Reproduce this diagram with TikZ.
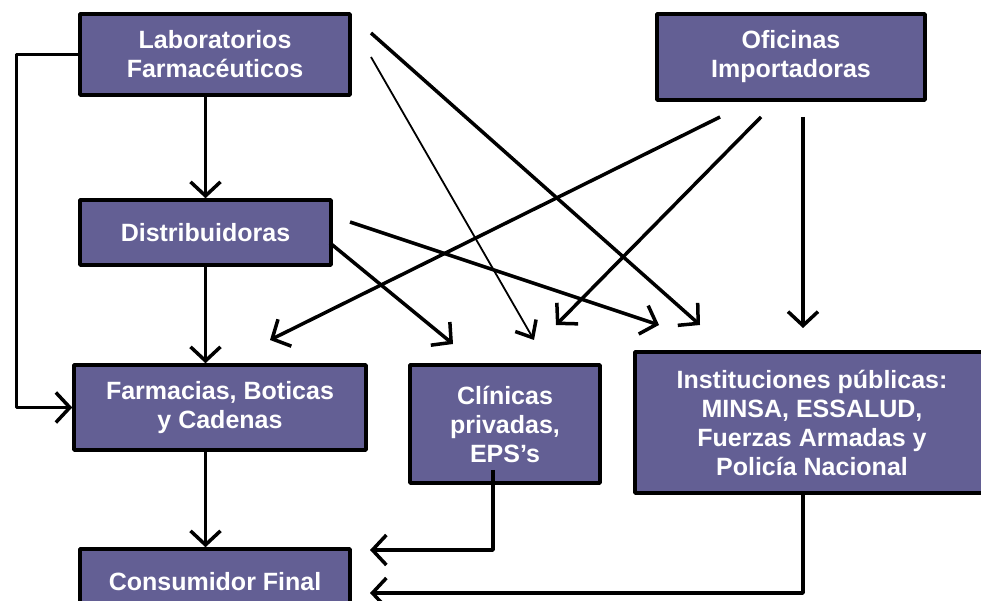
\documentclass[tikz,border=0pt]{standalone}
\usepackage{fontspec}
\setmainfont{Liberation Sans}
\usepackage{tikz}
\usetikzlibrary{arrows.meta}
\definecolor{boxfill}{RGB}{99,95,148}
\tikzset{
  box/.style={draw=black, line width=3.5bp, fill=boxfill, text=white, align=center,
    inner sep=0pt, font=\fontsize{25bp}{29bp}\selectfont\bfseries},
  flow/.style={line width=3.5bp, -{Straight Barb[length=14bp,width=30bp]}},
  thinflow/.style={line width=1.8bp, -{Straight Barb[length=14bp,width=24bp,line width=3.5bp]}},
}
\begin{document}
\begin{tikzpicture}[line join=bevel]
\useasboundingbox (0bp,0bp) rectangle (981bp,601bp);
%%
  \node (lab) at (215bp,546.5bp) [box,minimum width=270bp,minimum height=81bp] {Laboratorios\\Farmacéuticos};
  \node (ofic) at (791bp,544bp) [box,minimum width=268bp,minimum height=86bp] {Oficinas\\Importadoras};
  \node (dist) at (205.5bp,368.5bp) [box,minimum width=251bp,minimum height=65bp] {Distribuidoras};
  \node (farm) at (220bp,193.5bp) [box,minimum width=292bp,minimum height=85bp] {Farmacias, Boticas\\y Cadenas};
  \node (clin) at (505bp,177bp) [box,minimum width=190bp,minimum height=118bp] {Clínicas\\privadas,\\EPS’s};
  \node (inst) at (812bp,178.5bp) [box,minimum width=354bp,minimum height=141bp] {Instituciones públicas:\\MINSA, ESSALUD,\\Fuerzas Armadas y\\Policía Nacional};
  \node (cons) at (215bp,19bp) [box,minimum width=270bp,minimum height=66bp] {Consumidor Final};
%
  \coordinate (labA) at (371bp,568bp);
  \coordinate (labB) at (371bp,544bp);
  \coordinate (distA) at (350bp,379bp);
  \coordinate (distB) at (330bp,358bp);
  \coordinate (oficA) at (720bp,484bp);
  \coordinate (oficB) at (761bp,484bp);
  \coordinate (oficC) at (803bp,484bp);
  \coordinate (toFarm) at (270bp,261bp);
  \coordinate (toClinA) at (453bp,257bp);
  \coordinate (toClinB) at (534bp,261bp);
  \coordinate (toClinC) at (556bp,276bp);
  \coordinate (toInstA) at (659bp,276bp);
  \coordinate (toInstB) at (700bp,276bp);
  \coordinate (toInstC) at (803bp,273bp);
  \coordinate (clinOut) at (493bp,131bp);
  \coordinate (toConsA) at (370bp,51bp);
  \coordinate (toConsB) at (370bp,8bp);
%
  \draw [flow] (lab.south -| dist.center) -- (dist.north);
  \draw [flow] (lab.west) -- ++(-62bp,0bp) |- (farm.west);
  \draw [flow] (dist.south) -- (dist.south |- farm.north);
  \draw [flow] (dist.south |- farm.south) -- (dist.south |- cons.north);
  \draw [flow] (labA) -- (toInstB);
  \draw [thinflow] (labB) -- (toClinB);
  \draw [flow] (distA) -- (toInstA);
  \draw [flow] (distB) -- (toClinA);
  \draw [flow] (oficA) -- (toFarm);
  \draw [flow] (oficB) -- (toClinC);
  \draw [flow] (oficC) -- (toInstC);
  \draw [flow] (clinOut) |- (toConsA);
  \draw [flow] (inst.south -| oficC) |- (toConsB);
%
\end{tikzpicture}
\end{document}
